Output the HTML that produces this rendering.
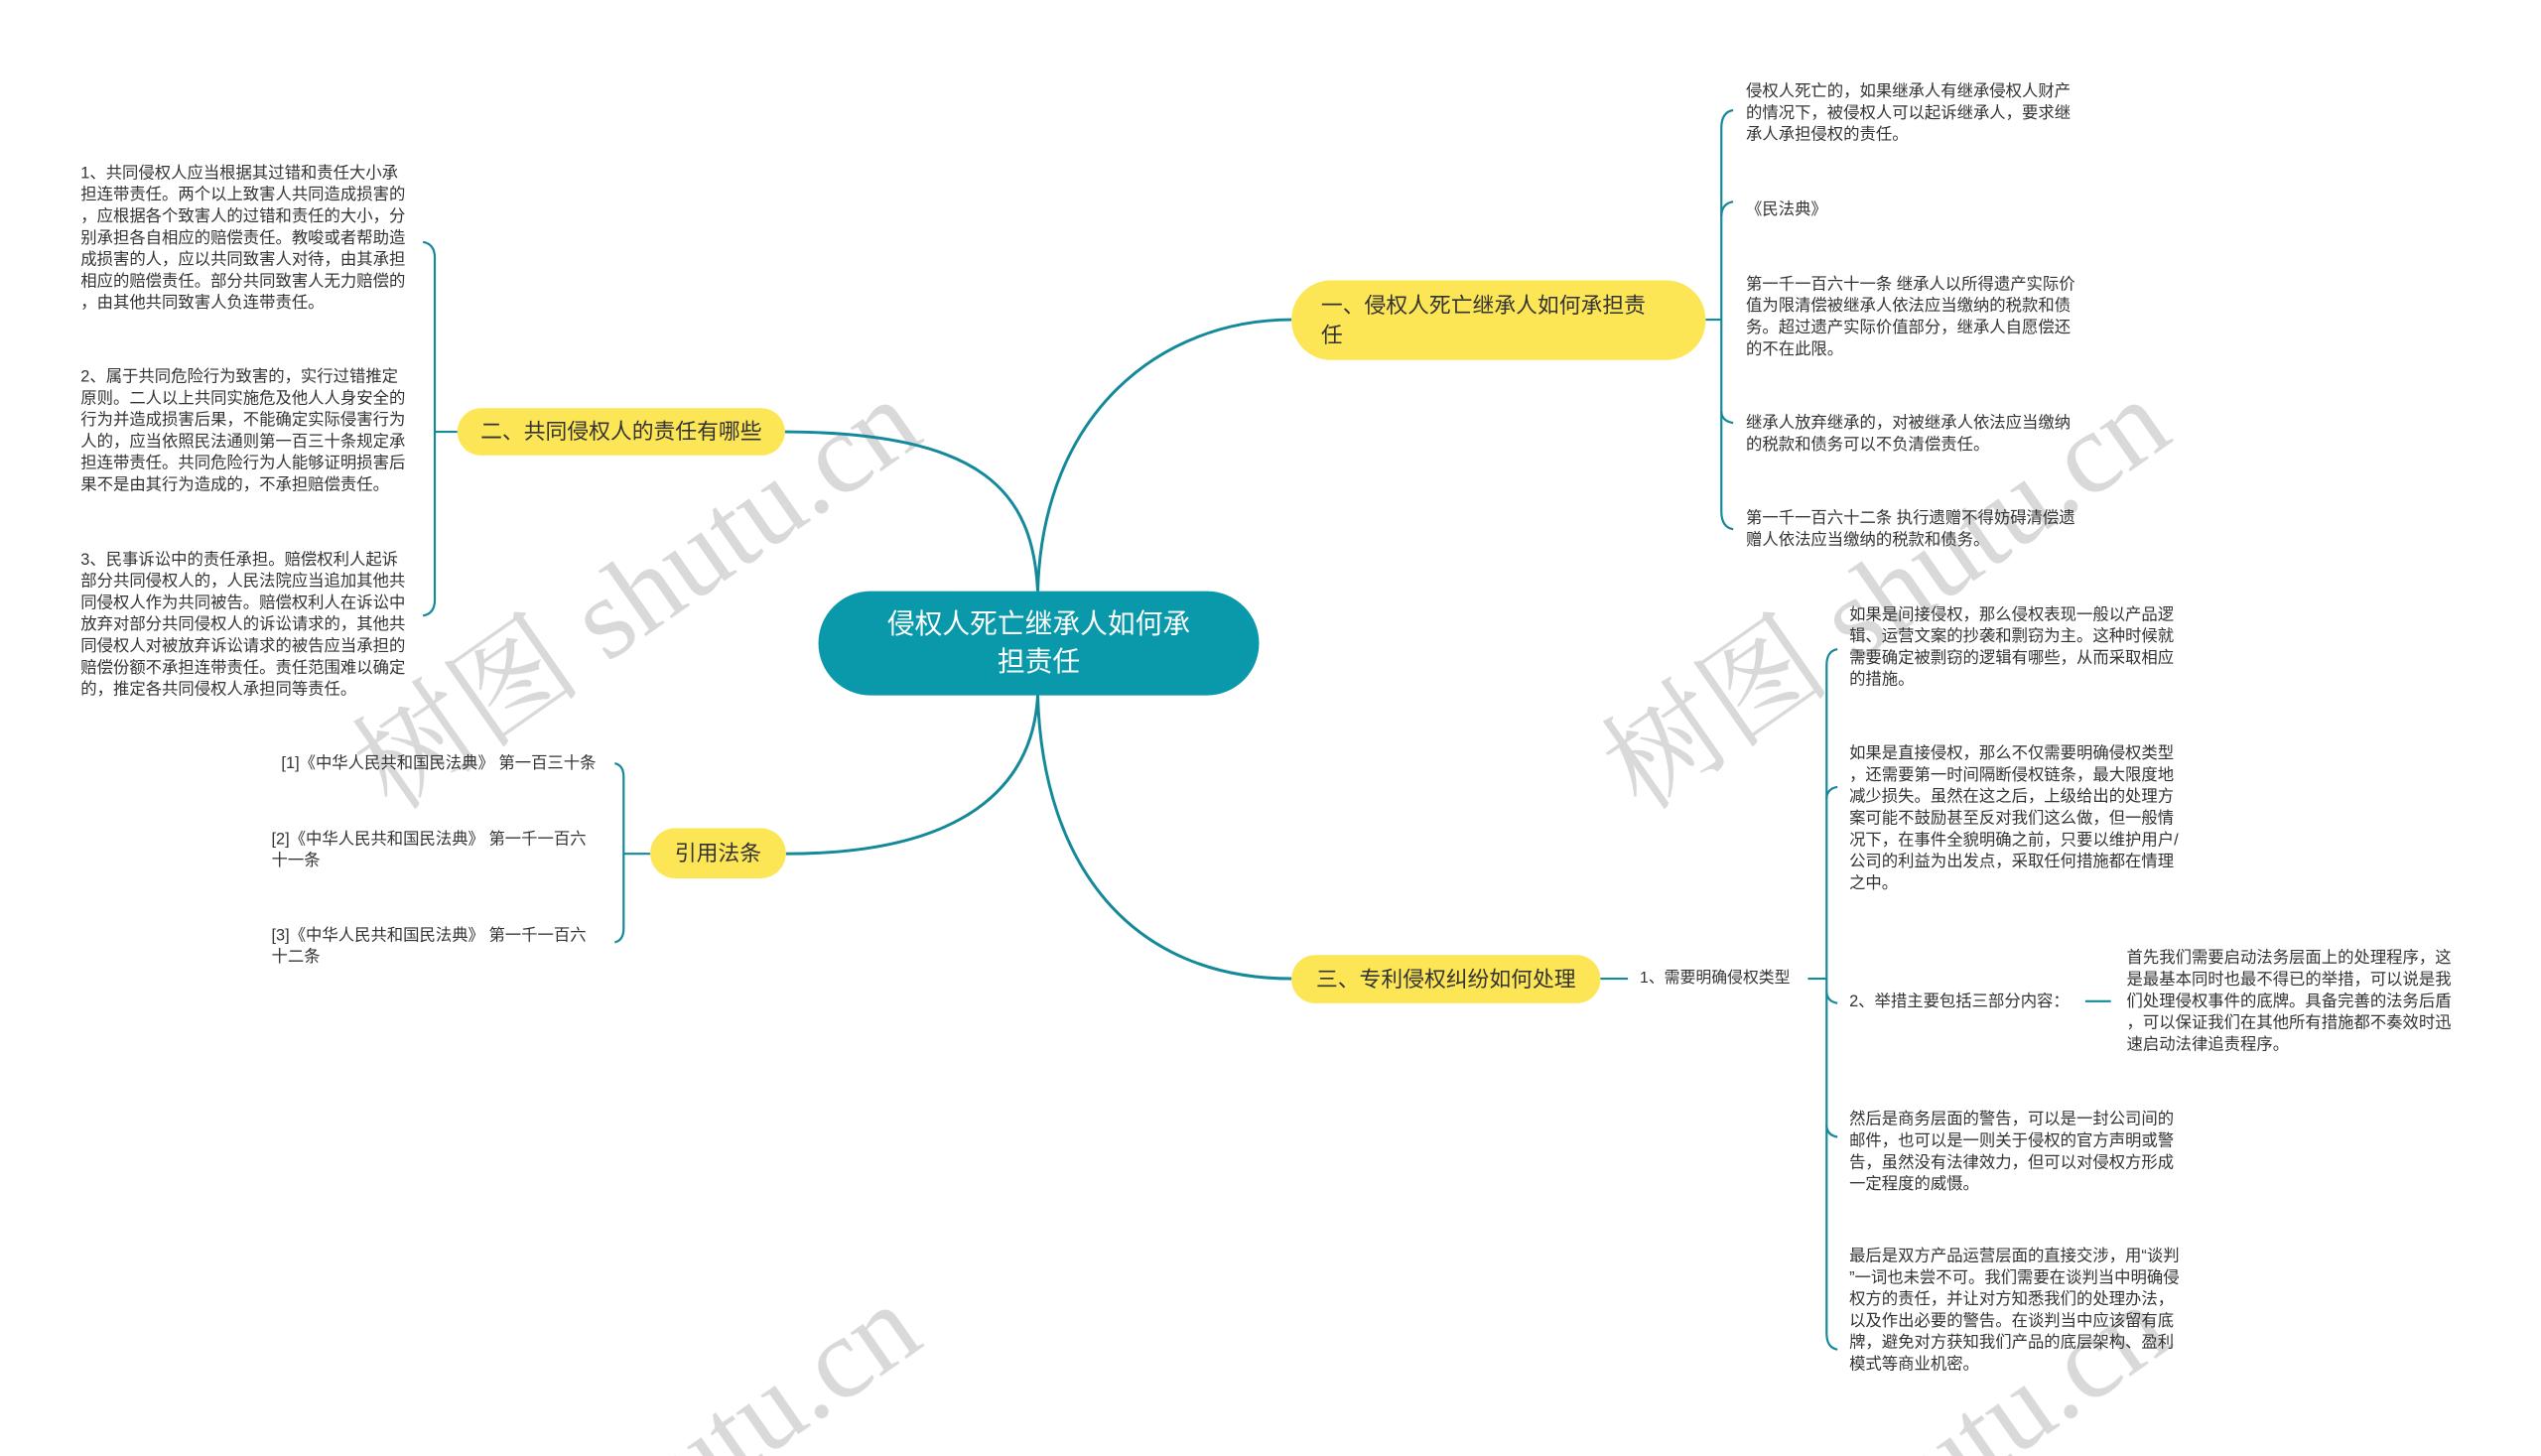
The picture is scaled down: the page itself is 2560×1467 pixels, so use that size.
<!DOCTYPE html>
<html style="width:2560px;height:1467px;overflow:hidden;"><head><meta charset="utf-8">
<style>
html,body{margin:0;padding:0;background:#fff;}
body{width:2560px;height:1467px;position:relative;overflow:hidden;font-family:"Liberation Sans","Noto Sans CJK SC",sans-serif;}
.t{position:absolute;font-size:16.5px;line-height:22px;color:#333;line-break:anywhere;word-break:break-all;}
.node{position:absolute;background:#fde655;color:#333;border-radius:26px;font-size:22px;line-height:30px;box-sizing:border-box;display:flex;align-items:center;}
.wm{position:absolute;font-family:"Liberation Serif","Noto Serif CJK SC",serif;font-size:118px;color:rgba(160,160,160,0.4);transform:rotate(-35deg);transform-origin:left center;white-space:nowrap;}
svg{position:absolute;left:0;top:0;}
#clip{position:absolute;left:0;top:0;width:2560px;height:1467px;overflow:hidden;}
#s{position:absolute;left:0;top:0;width:2560px;height:1480px;transform:scale(0.991);transform-origin:0 0;}
</style></head><body>
<div id="clip"><div id="s">
<div class="wm" style="left:370px;top:700px;">树图 shutu.cn</div>
<div class="wm" style="left:1640px;top:700px;">树图 shutu.cn</div>
<div class="wm" style="left:370px;top:1620px;">树图 shutu.cn</div>
<div class="wm" style="left:1640px;top:1620px;">树图 shutu.cn</div>
<svg width="2560" height="1467" viewBox="0 0 2560 1467" fill="none" stroke="#13899a" stroke-width="3">
<path d="M1055,601 C1060,420 1180,325 1313,325"/>
<path d="M1055,601 C1050,500 1000,440 798,439"/>
<path d="M1055,707 C1050,800 980,868 799,868"/>
<path d="M1055,707 C1060,880 1150,995 1313,995"/>
<g stroke-width="2.2">
<path d="M1734,325 L1750,325"/>
<path d="M1762,112 Q1750,114 1750,130 L1750,520 Q1750,536 1762,538"/>
<path d="M1762,205 Q1750,207 1750,220"/><path d="M1762,430 Q1750,428 1750,418"/>
<path d="M465,439 L442,439"/>
<path d="M430,246 Q442,248 442,262 L442,610 Q442,624 430,626"/>
<path d="M661,868 L634,868"/>
<path d="M625,776 Q634,778 634,790 L634,944 Q634,956 625,958"/>
<path d="M1627,995 L1655,995"/>
<path d="M1838,995 L1857,995"/>
<path d="M1868,660 Q1857,662 1857,676 L1857,1356 Q1857,1370 1868,1372"/>
<path d="M1868,800 Q1857,802 1857,812"/><path d="M1868,1020 Q1857,1018 1857,1008"/><path d="M1868,1156 Q1857,1154 1857,1144"/>
<path d="M2120,1018 L2146,1018"/>
</g>
</svg>
<div style="position:absolute;left:832px;top:601px;width:448px;height:106px;border-radius:53px;background:#0a99aa;color:#fff;font-size:28px;line-height:38px;text-align:center;display:flex;align-items:center;justify-content:center;">侵权人死亡继承人如何承<br>担责任</div>
<div class="node" style="left:1313px;top:285px;width:421px;height:81px;padding:0 30px;border-radius:40px;">一、侵权人死亡继承人如何承担责<br>任</div>
<div class="node" style="left:465px;top:415px;width:333px;height:48px;justify-content:center;border-radius:24px;">二、共同侵权人的责任有哪些</div>
<div class="node" style="left:661px;top:842px;width:138px;height:51px;justify-content:center;">引用法条</div>
<div class="node" style="left:1313px;top:971px;width:314px;height:49px;justify-content:center;border-radius:24px;">三、专利侵权纠纷如何处理</div>

<div class="t" style="left:1775px;top:82px;width:336px;">侵权人死亡的，如果继承人有继承侵权人财产的情况下，被侵权人可以起诉继承人，要求继承人承担侵权的责任。</div>
<div class="t" style="left:1775px;top:202px;">《民法典》</div>
<div class="t" style="left:1775px;top:278px;width:336px;">第一千一百六十一条 继承人以所得遗产实际价值为限清偿被继承人依法应当缴纳的税款和债务。超过遗产实际价值部分，继承人自愿偿还的不在此限。</div>
<div class="t" style="left:1775px;top:419px;width:336px;">继承人放弃继承的，对被继承人依法应当缴纳的税款和债务可以不负清偿责任。</div>
<div class="t" style="left:1775px;top:516px;width:336px;">第一千一百六十二条 执行遗赠不得妨碍清偿遗赠人依法应当缴纳的税款和债务。</div>

<div class="t" style="left:82px;top:165px;width:336px;">1、共同侵权人应当根据其过错和责任大小承担连带责任。两个以上致害人共同造成损害的，应根据各个致害人的过错和责任的大小，分别承担各自相应的赔偿责任。教唆或者帮助造成损害的人，应以共同致害人对待，由其承担相应的赔偿责任。部分共同致害人无力赔偿的，由其他共同致害人负连带责任。</div>
<div class="t" style="left:82px;top:372px;width:336px;">2、属于共同危险行为致害的，实行过错推定原则。二人以上共同实施危及他人人身安全的行为并造成损害后果，不能确定实际侵害行为人的，应当依照民法通则第一百三十条规定承担连带责任。共同危险行为人能够证明损害后果不是由其行为造成的，不承担赔偿责任。</div>
<div class="t" style="left:82px;top:558px;width:336px;">3、民事诉讼中的责任承担。赔偿权利人起诉部分共同侵权人的，人民法院应当追加其他共同侵权人作为共同被告。赔偿权利人在诉讼中放弃对部分共同侵权人的诉讼请求的，其他共同侵权人对被放弃诉讼请求的被告应当承担的赔偿份额不承担连带责任。责任范围难以确定的，推定各共同侵权人承担同等责任。</div>

<div class="t" style="left:286px;top:765px;white-space:nowrap;">[1]《中华人民共和国民法典》 第一百三十条</div>
<div class="t" style="left:276px;top:842px;width:336px;">[2]《中华人民共和国民法典》 第一千一百六十一条</div>
<div class="t" style="left:276px;top:940px;width:336px;">[3]《中华人民共和国民法典》 第一千一百六十二条</div>

<div class="t" style="left:1667px;top:984px;font-size:16px;white-space:nowrap;">1、需要明确侵权类型</div>
<div class="t" style="left:1880px;top:614px;width:340px;">如果是间接侵权，那么侵权表现一般以产品逻辑、运营文案的抄袭和剽窃为主。这种时候就需要确定被剽窃的逻辑有哪些，从而采取相应的措施。</div>
<div class="t" style="left:1880px;top:755px;width:340px;">如果是直接侵权，那么不仅需要明确侵权类型，还需要第一时间隔断侵权链条，最大限度地减少损失。虽然在这之后，上级给出的处理方案可能不鼓励甚至反对我们这么做，但一般情况下，在事件全貌明确之前，只要以维护用户/公司的利益为出发点，采取任何措施都在情理之中。</div>
<div class="t" style="left:1880px;top:1007px;white-space:nowrap;">2、举措主要包括三部分内容：</div>
<div class="t" style="left:2162px;top:963px;width:340px;">首先我们需要启动法务层面上的处理程序，这是最基本同时也最不得已的举措，可以说是我们处理侵权事件的底牌。具备完善的法务后盾，可以保证我们在其他所有措施都不奏效时迅速启动法律追责程序。</div>
<div class="t" style="left:1880px;top:1127px;width:340px;">然后是商务层面的警告，可以是一封公司间的邮件，也可以是一则关于侵权的官方声明或警告，虽然没有法律效力，但可以对侵权方形成一定程度的威慑。</div>
<div class="t" style="left:1880px;top:1266px;width:340px;">最后是双方产品运营层面的直接交涉，用“谈判”一词也未尝不可。我们需要在谈判当中明确侵权方的责任，并让对方知悉我们的处理办法，以及作出必要的警告。在谈判当中应该留有底牌，避免对方获知我们产品的底层架构、盈利模式等商业机密。</div>
</div></div>
</body></html>
